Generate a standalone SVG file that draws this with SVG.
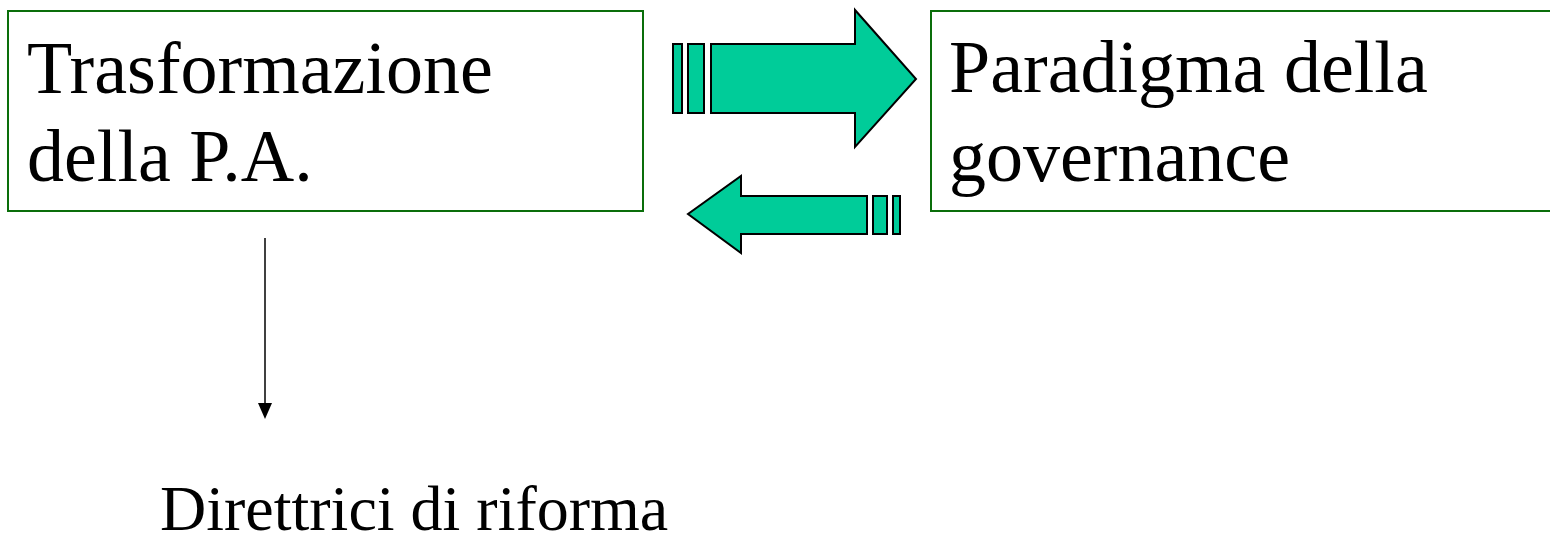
<svg xmlns="http://www.w3.org/2000/svg" width="1550" height="544" viewBox="0 0 1550 544">
<style>
.box{fill:#fff;stroke:#0a6e0a;stroke-width:2}
.big{fill:#00cc99;stroke:#000;stroke-width:2;stroke-linejoin:miter}
.t{font-family:"Liberation Serif","Times New Roman",serif;font-size:74px;fill:#000}
.t2{font-family:"Liberation Serif","Times New Roman",serif;font-size:64px;fill:#000}
</style>
<rect width="1550" height="544" fill="#fff"/>
<g id="node-trasformazione">
<rect class="box" x="8" y="11" width="635" height="200"/>
<text class="t" x="27" y="93">Trasformazione</text>
<text class="t" x="27" y="181">della P.A.</text>
</g>
<g id="node-paradigma">
<rect class="box" x="931" y="11" width="640" height="200"/>
<text class="t" x="949" y="92">Paradigma della</text>
<text class="t" x="949" y="181">governance</text>
</g>
<g id="node-direttrici">
<text class="t2" x="160" y="530">Direttrici di riforma</text>
</g>
<g id="connectors">
<g id="arrow-right">
<rect class="big" x="673" y="44" width="9" height="69"/>
<rect class="big" x="688" y="44" width="16" height="69"/>
<path class="big" d="M711,44 L855,44 L855,10 L916,79 L855,147 L855,113 L711,113 Z"/>
</g>
<g id="arrow-left">
<rect class="big" x="893" y="196" width="7" height="38"/>
<rect class="big" x="873" y="196" width="14" height="38"/>
<path class="big" d="M867,196 L741,196 L741,176 L688,214 L741,253 L741,234 L867,234 Z"/>
</g>
<g id="arrow-down">
<line x1="265" y1="238" x2="265" y2="404" stroke="#000" stroke-width="1.5"/>
<path d="M258,403 L272,403 L265,419 Z" fill="#000"/>
</g>
</g>
</svg>
